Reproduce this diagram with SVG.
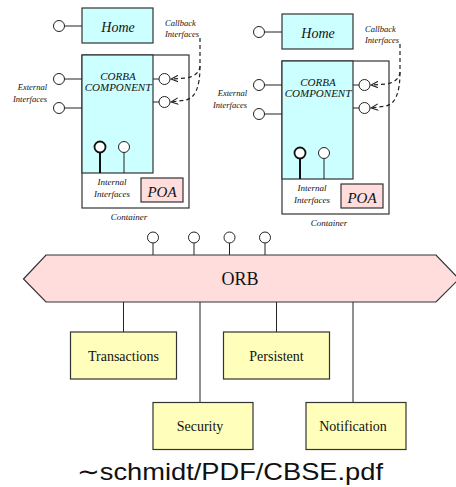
<svg xmlns="http://www.w3.org/2000/svg" width="456" height="487" viewBox="0 0 456 487">
<style>
.ln{stroke:#222;stroke-width:1;fill:none}
.lp{stroke:#222;stroke-width:1;fill:#fff}
.cy{fill:#ccffff;stroke:#333;stroke-width:1.2}
.pk{fill:#ffdddd;stroke:#333;stroke-width:1.2}
.yl{fill:#ffffbb;stroke:#333;stroke-width:1.2}
.wh{fill:#fff;stroke:#333;stroke-width:1.2}
.it{font-family:"Liberation Serif",serif;font-style:italic;fill:#111}
.rm{font-family:"Liberation Serif",serif;fill:#111}
.dash{stroke:#222;stroke-width:1.2;fill:none;stroke-dasharray:4,3}
</style>
<defs>
<marker id="open" viewBox="0 0 10 10" refX="9" refY="5" markerWidth="8" markerHeight="8" orient="auto" markerUnits="userSpaceOnUse">
<polyline points="0,1 9,5 0,9" fill="none" stroke="#222" stroke-width="1.4"/>
</marker>
<g id="compTpl">
<rect class="wh" x="82" y="55" width="107" height="153"/>
<rect class="cy" x="82" y="55" width="71" height="118"/>
<text class="it" x="118" y="80" font-size="11" text-anchor="middle">CORBA</text>
<text class="it" x="118" y="91" font-size="11" text-anchor="middle">COMPONENT</text>
<rect class="cy" x="82" y="8" width="71" height="35"/>
<text class="it" x="118" y="31.5" font-size="14" text-anchor="middle">Home</text>
<line class="ln" x1="64.5" y1="26" x2="82" y2="26"/>
<circle class="lp" cx="59" cy="26" r="5.5"/>
<line class="ln" x1="64.5" y1="79" x2="82" y2="79"/>
<circle class="lp" cx="59" cy="79" r="5.5"/>
<line class="ln" x1="64.5" y1="108" x2="82" y2="108"/>
<circle class="lp" cx="59" cy="108" r="5.5"/>
<text class="it" x="47" y="90" font-size="8.5" text-anchor="end">External</text>
<text class="it" x="47" y="102" font-size="8.5" text-anchor="end">Interfaces</text>
<line class="ln" x1="153" y1="79" x2="159" y2="79"/>
<circle class="lp" cx="164.5" cy="79" r="5.5"/>
<line class="ln" x1="153" y1="102" x2="159" y2="102"/>
<circle class="lp" cx="164.5" cy="102" r="5.5"/>
<text class="it" x="165" y="26" font-size="8.5">Callback</text>
<text class="it" x="165" y="37" font-size="8.5">Interfaces</text>
<path class="dash" d="M200,38 L200,66 Q199,76 186,78 L171,79" marker-end="url(#open)"/>
<path class="dash" d="M200,66 Q200,97 186,100 L171,102" marker-end="url(#open)"/>
<line x1="100" y1="152.5" x2="100" y2="173" stroke="#111" stroke-width="2"/>
<circle cx="100" cy="147" r="5.5" fill="#fff" stroke="#111" stroke-width="1.8"/>
<line class="ln" x1="124" y1="152.5" x2="124" y2="173"/>
<circle class="lp" cx="124" cy="147" r="5.5"/>
<text class="it" x="112" y="185" font-size="9" text-anchor="middle">Internal</text>
<text class="it" x="112" y="197" font-size="9" text-anchor="middle">Interfaces</text>
<rect class="pk" x="141" y="178" width="42" height="24"/>
<text class="it" x="162" y="196.5" font-size="15" text-anchor="middle">POA</text>
<text class="it" x="129" y="220" font-size="9" text-anchor="middle">Container</text>
</g>
</defs>
<g id="container-left"><use href="#compTpl"/></g>
<g id="container-right"><use href="#compTpl" transform="translate(200,6)"/></g>
<g id="connectors">
<line class="ln" x1="153" y1="243" x2="153" y2="255"/>
<line class="ln" x1="194" y1="243" x2="194" y2="255"/>
<line class="ln" x1="229.5" y1="243" x2="229.5" y2="255"/>
<line class="ln" x1="265" y1="243" x2="265" y2="255"/>
<line class="ln" x1="123.5" y1="302" x2="123.5" y2="332"/>
<line class="ln" x1="200" y1="302" x2="200" y2="402"/>
<line class="ln" x1="276.5" y1="302" x2="276.5" y2="332"/>
<line class="ln" x1="353" y1="302" x2="353" y2="402"/>
<circle class="lp" cx="153" cy="237.5" r="5.5"/>
<circle class="lp" cx="194" cy="237.5" r="5.5"/>
<circle class="lp" cx="229.5" cy="237.5" r="5.5"/>
<circle class="lp" cx="265" cy="237.5" r="5.5"/>
</g>
<g id="orb">
<polygon class="pk" points="23.5,279 46,255 436,255 459,279 436,302 46,302"/>
<text class="rm" x="240" y="285" font-size="18" text-anchor="middle">ORB</text>
</g>
<g id="transactions">
<rect class="yl" x="70.5" y="332" width="106" height="47"/>
<text class="rm" x="123.5" y="360.5" font-size="14" text-anchor="middle">Transactions</text>
</g>
<g id="persistent">
<rect class="yl" x="223.5" y="332" width="106" height="47"/>
<text class="rm" x="276.5" y="360.5" font-size="14" text-anchor="middle">Persistent</text>
</g>
<g id="security">
<rect class="yl" x="153" y="402.5" width="100" height="47"/>
<text class="rm" x="200" y="431" font-size="14" text-anchor="middle">Security</text>
</g>
<g id="notification">
<rect class="yl" x="306" y="402.5" width="100" height="47"/>
<text class="rm" x="353" y="431" font-size="14" text-anchor="middle">Notification</text>
</g>
<text x="77" y="480" font-family="'Liberation Sans','DejaVu Sans',sans-serif" font-size="24" fill="#111" textLength="306" lengthAdjust="spacingAndGlyphs">∼schmidt/PDF/CBSE.pdf</text>
</svg>
